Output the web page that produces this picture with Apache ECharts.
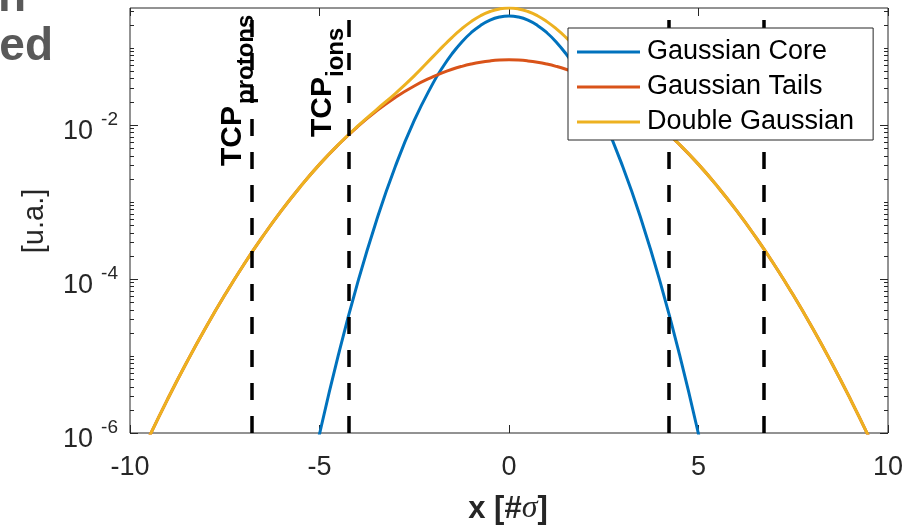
<!DOCTYPE html>
<html>
<head>
<meta charset="utf-8">
<script src="https://cdn.jsdelivr.net/npm/echarts@6/dist/echarts.min.js"></script>
<style>
  html, body { margin: 0; padding: 0; background: #fff; }
  #chart { width: 917px; height: 526px; }
</style>
</head>
<body>
<div id="chart"></div>
<script>
// Sample positions along x [#sigma] (denser near the peak)
const xs = [-10, -9.5, -9, -8.5, -8, -7.5, -7, -6.5, -6, -5.5, -5, -4.5, -4, -3.5, -3, -2.5, -2,
            -1.75, -1.5, -1.25, -1, -0.75, -0.5, -0.25, 0, 0.25, 0.5, 0.75, 1, 1.25, 1.5, 1.75,
            2, 2.5, 3, 3.5, 4, 4.5, 5, 5.5, 6, 6.5, 7, 7.5, 8, 8.5, 9, 9.5, 10];

// Narrow core component
const gaussianCore = [null, null, null, null, null, null, null, null, null, 7.0e-8, 9.65e-7, 1.04e-5, 8.69e-5, 5.66e-4, 2.88e-3, 1.14e-2, 3.51e-2,
                      5.60e-2, 8.41e-2, 0.1186, 0.157, 0.1955, 0.229, 0.251, 0.259, 0.251, 0.229, 0.1955, 0.157, 0.1186, 8.41e-2, 5.60e-2,
                      3.51e-2, 1.14e-2, 2.88e-3, 5.66e-4, 8.69e-5, 1.04e-5, 9.65e-7, 7.0e-8, null, null, null, null, null, null, null, null, null];

// Wide tail component
const gaussianTails = [2.60e-7, 8.80e-7, 2.80e-6, 8.35e-6, 2.34e-5, 6.17e-5, 1.53e-4, 3.55e-4, 7.76e-4, 1.59e-3, 3.07e-3, 5.55e-3, 9.45e-3, 1.51e-2, 2.27e-2, 3.20e-2, 4.23e-2,
                       4.76e-2, 5.27e-2, 5.74e-2, 6.16e-2, 6.51e-2, 6.77e-2, 6.93e-2, 6.98e-2, 6.93e-2, 6.77e-2, 6.51e-2, 6.16e-2, 5.74e-2, 5.27e-2, 4.76e-2,
                       4.23e-2, 3.20e-2, 2.27e-2, 1.51e-2, 9.45e-3, 5.55e-3, 3.07e-3, 1.59e-3, 7.76e-4, 3.55e-4, 1.53e-4, 6.17e-5, 2.34e-5, 8.35e-6, 2.80e-6, 8.80e-7, 2.60e-7];

// Sum of both components
const doubleGaussian = [2.60e-7, 8.80e-7, 2.80e-6, 8.35e-6, 2.34e-5, 6.17e-5, 1.53e-4, 3.55e-4, 7.76e-4, 1.59e-3, 3.07e-3, 5.56e-3, 9.54e-3, 1.57e-2, 2.55e-2, 4.33e-2, 7.74e-2,
                        0.1036, 0.137, 0.176, 0.219, 0.261, 0.296, 0.320, 0.329, 0.320, 0.296, 0.261, 0.219, 0.176, 0.137, 0.1036,
                        7.74e-2, 4.33e-2, 2.55e-2, 1.57e-2, 9.54e-3, 5.56e-3, 3.07e-3, 1.59e-3, 7.76e-4, 3.55e-4, 1.53e-4, 6.17e-5, 2.34e-5, 8.35e-6, 2.80e-6, 8.80e-7, 2.60e-7];

const seriesNames = ['Gaussian Core', 'Gaussian Tails', 'Double Gaussian'];
const seriesColors = ['#0072BD', '#D95319', '#EDB120'];

// Collimator positions (TCP) in units of sigma
const tcpPositions = [-6.78, -4.24, 4.21, 6.72];

// Labelled decades on the log axis
const yLabelExponents = [-6, -4, -2];

const FONT = '"Liberation Sans", Arial, Helvetica, sans-serif';
const AXIS_COLOR = '#262626';

function pairs(values) {
  const out = [];
  xs.forEach((x, i) => { if (values[i] !== null) out.push([x, values[i]]); });
  return out;
}

// Tick marks on the log axis: decades plus 2..9 within each decade
const yTickItems = [];
for (let e = -6; e <= 0; e++) {
  for (let m = 1; m <= 9; m++) {
    const v = m * Math.pow(10, e);
    if (v > 0.33) continue;
    const major = (m === 1 && yLabelExponents.indexOf(e) >= 0);
    yTickItems.push([-10, v, major ? 8 : 4]);
  }
}

const chart = echarts.init(document.getElementById('chart'), null, { renderer: 'canvas' });

const lineSeries = [gaussianCore, gaussianTails, doubleGaussian].map((vals, i) => ({
  name: seriesNames[i],
  type: 'line',
  data: pairs(vals),
  smooth: true,
  symbol: 'none',
  clip: true,
  color: seriesColors[i],
  lineStyle: { width: 3, color: seriesColors[i] },
  z: 2
}));

const tcpText = (x, y, text, size) => ({
  type: 'text', x: x, y: y, rotation: Math.PI / 2, z: 10,
  style: {
    text: text, font: 'bold ' + size + 'px ' + FONT, fill: '#000',
    align: 'left', verticalAlign: 'middle', textAlign: 'left', textVerticalAlign: 'middle'
  }
});

chart.setOption({
  animation: false,
  backgroundColor: '#fff',
  grid: {
    left: 130, right: 29, top: 8, bottom: 93,
    show: true, borderColor: AXIS_COLOR, borderWidth: 1, backgroundColor: 'transparent',
    containLabel: false, outerBoundsMode: 'none'
  },
  legend: {
    data: seriesNames,
    orient: 'vertical',
    left: 568, top: 28,
    z: 20,
    padding: [9, 19, 3, 9],
    itemGap: 5, itemWidth: 63, itemHeight: 3,
    icon: 'rect',
    backgroundColor: '#fff', borderColor: AXIS_COLOR, borderWidth: 1, borderRadius: 0,
    textStyle: { fontSize: 27, fontFamily: FONT, color: '#000', lineHeight: 30, padding: [0, 0, 0, 2] },
    selectedMode: false
  },
  xAxis: [{
    type: 'value', min: -10, max: 10, interval: 5, position: 'bottom',
    axisLine: { show: false }, splitLine: { show: false },
    axisTick: { show: true, inside: true, length: 8, lineStyle: { color: AXIS_COLOR, width: 1 } },
    axisLabel: { fontSize: 27, fontFamily: FONT, color: AXIS_COLOR, margin: 21 }
  }, {
    type: 'value', min: -10, max: 10, interval: 5, position: 'top',
    axisLine: { show: false }, splitLine: { show: false },
    axisTick: { show: true, inside: true, length: 8, lineStyle: { color: AXIS_COLOR, width: 1 } },
    axisLabel: { show: false }
  }],
  yAxis: {
    type: 'log', logBase: 10, min: 1e-6, max: 'dataMax',
    axisLine: { show: false }, splitLine: { show: false }, axisTick: { show: false },
    axisLabel: {
      margin: 12,
      formatter: (v) => {
        const e = Math.log10(v);
        const r = Math.round(e);
        if (Math.abs(e - r) > 1e-6 || yLabelExponents.indexOf(r) < 0) return '';
        return '{b|10}{s|' + r + '}';
      },
      rich: {
        b: { fontSize: 27, fontFamily: FONT, color: AXIS_COLOR, padding: [14, 0, 0, 0] },
        s: { fontSize: 19, fontFamily: FONT, color: AXIS_COLOR, verticalAlign: 'top', padding: [6, 0, 0, 8] }
      }
    }
  },
  series: lineSeries.concat([{
    name: 'tcp',
    type: 'line',
    data: [],
    z: 3,
    markLine: {
      silent: true,
      z: 3,
      symbol: ['none', 'none'],
      label: { show: false },
      lineStyle: { color: '#000', width: 3.5, type: [17, 16] },
      emphasis: { disabled: true },
      data: tcpPositions.map(x => ({ xAxis: x }))
    }
  }, {
    name: 'yticks',
    type: 'custom',
    silent: true,
    clip: false,
    z: 5,
    encode: { x: 0, y: 1 },
    data: yTickItems,
    renderItem: (params, api) => {
      const p = api.coord([api.value(0), api.value(1)]);
      const len = api.value(2);
      const cs = params.coordSys;
      const y = Math.round(p[1]) + 0.5;
      const st = { stroke: AXIS_COLOR, lineWidth: 1 };
      return {
        type: 'group',
        children: [
          { type: 'line', shape: { x1: cs.x, y1: y, x2: cs.x + len, y2: y }, style: st },
          { type: 'line', shape: { x1: cs.x + cs.width - len, y1: y, x2: cs.x + cs.width, y2: y }, style: st }
        ]
      };
    }
  }]),
  graphic: [
    // fragments of the slide heading at the left edge
    { type: 'text', x: 26, y: -2, z: 10, style: { text: 'n', font: 'bold 46px ' + FONT, fill: '#595959', align: 'right', verticalAlign: 'middle', textAlign: 'right', textVerticalAlign: 'middle' } },
    { type: 'text', x: 53, y: 47, z: 10, style: { text: 'ed', font: 'bold 46px ' + FONT, fill: '#595959', align: 'right', verticalAlign: 'middle', textAlign: 'right', textVerticalAlign: 'middle' } },
    // collimator labels
    tcpText(232.5, 166, 'TCP', 30),
    tcpText(246, 104, 'protons', 24),
    tcpText(322.5, 137, 'TCP', 30),
    tcpText(336.5, 77, 'ions', 24),
    // axis titles
    { type: 'text', x: 35, y: 221, rotation: Math.PI / 2, z: 10,
      style: { text: '[u.a.]', font: '29px ' + FONT, fill: AXIS_COLOR, align: 'center', verticalAlign: 'middle', textAlign: 'center', textVerticalAlign: 'middle' } },
    { type: 'text', x: 508, y: 509, z: 10,
      style: {
        text: '{b|x [#}{i|σ}{b|]}', align: 'center', verticalAlign: 'middle', textAlign: 'center', textVerticalAlign: 'middle',
        rich: {
          b: { font: 'bold 31px ' + FONT, fill: AXIS_COLOR },
          i: { font: 'italic 32px "Liberation Serif", "DejaVu Serif", serif', fill: AXIS_COLOR }
        }
      } }
  ]
});
</script>
</body>
</html>
